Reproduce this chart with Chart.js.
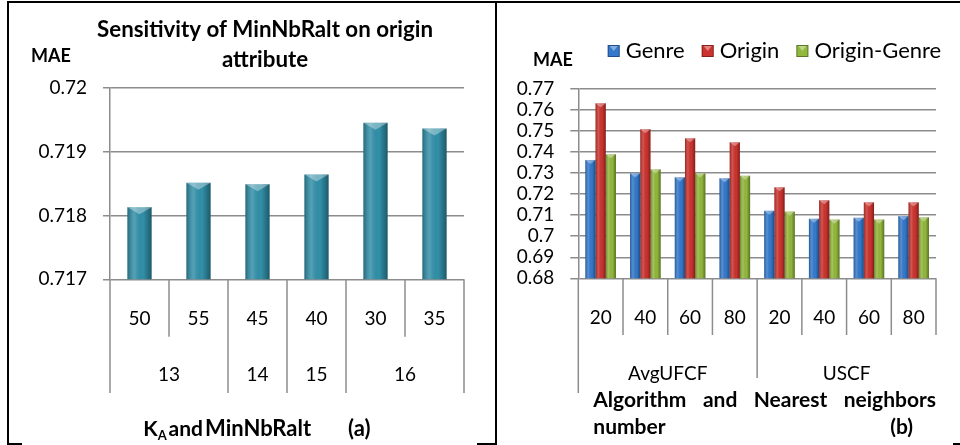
<!doctype html>
<html>
<head>
<title>MAE sensitivity</title>
<script src="https://cdn.jsdelivr.net/npm/chart.js@4.4.0/dist/chart.umd.min.js"></script>
<style>
body { margin: 0; background: #fff; }
.ln { position: absolute; background: #000; }
canvas { position: absolute; }
</style>
</head>
<body>
<div class="ln" style="left:7px;top:1px;width:953px;height:2px"></div>
<div class="ln" style="left:7px;top:1px;width:2px;height:444px"></div>
<div class="ln" style="left:495px;top:1px;width:2px;height:444px"></div>
<div class="ln" style="left:7px;top:443px;width:15px;height:2px"></div>
<div class="ln" style="left:477px;top:443px;width:20px;height:2px"></div>
<div class="ln" style="left:953px;top:443px;width:7px;height:2px"></div>
<canvas id="left-canvas" width="486" height="440" style="left:9px;top:3px"></canvas>
<canvas id="right-canvas" width="463" height="440" style="left:497px;top:3px"></canvas>
<script>
// (a) sensitivity of MinNbRalt, origin attribute
var minNbRalt = ['50', '55', '45', '40', '30', '35'];
var kaGroup = ['13', '13', '14', '15', '16', '16'];
var maeOrigin = [0.71813, 0.71851, 0.71849, 0.71864, 0.71945, 0.71936];

// (b) algorithm and nearest neighbors number
var neighbors = ['20', '40', '60', '80', '20', '40', '60', '80'];
var algorithm = ['AvgUFCF', 'AvgUFCF', 'AvgUFCF', 'AvgUFCF', 'USCF', 'USCF', 'USCF', 'USCF'];
var seriesNames = ['Genre', 'Origin', 'Origin-Genre'];
var maeGenre = [0.7363, 0.7299, 0.7280, 0.7276, 0.7121, 0.7083, 0.7088, 0.7096];
var maeOriginB = [0.7632, 0.7509, 0.7466, 0.7447, 0.7233, 0.7171, 0.7161, 0.7161];
var maeOriginGenre = [0.7390, 0.7318, 0.7299, 0.7288, 0.7117, 0.7079, 0.7079, 0.7090];

var GRID = '#8c8c8c';
var FONT = 'Lato';

// cylinder-ish shading over each bar, like the excel 3d style
var barShade = {
  id: 'barShade',
  afterDatasetsDraw: function(chart) {
    var ctx = chart.ctx, area = chart.chartArea;
    ctx.save();
    chart.data.datasets.forEach(function(ds, di) {
      chart.getDatasetMeta(di).data.forEach(function(bar) {
        var l = bar.x - bar.width / 2, r = bar.x + bar.width / 2;
        var bottom = Math.min(bar.base, area.bottom);
        var g = ctx.createLinearGradient(l, 0, r, 0);
        g.addColorStop(0, 'rgba(0,0,0,0.28)');
        g.addColorStop(0.3, 'rgba(255,255,255,0.16)');
        g.addColorStop(0.65, 'rgba(0,0,0,0)');
        g.addColorStop(1, 'rgba(0,0,0,0.38)');
        ctx.fillStyle = g;
        ctx.fillRect(l, bar.y, r - l, bottom - bar.y);
        ctx.fillStyle = 'rgba(255,255,255,0.35)';
        ctx.beginPath();
        ctx.moveTo(l, bar.y);
        ctx.lineTo(r, bar.y);
        ctx.lineTo(bar.x, bar.y + Math.min(bar.width * 0.4, 7));
        ctx.closePath();
        ctx.fill();
      });
    });
    ctx.restore();
  }
};

// second level of category labels + separator lines under the axis
function groupAxis(groups, o) {
  return {
    id: 'groupAxis',
    afterDraw: function(chart) {
      var ctx = chart.ctx, xs = chart.scales.x, top = chart.chartArea.bottom;
      var n = groups.length;
      var half = (xs.getPixelForValue(1) - xs.getPixelForValue(0)) / 2;
      ctx.save();
      ctx.strokeStyle = GRID;
      ctx.lineWidth = 1.5;
      for (var i = 0; i <= n; i++) {
        var px = i < n ? xs.getPixelForValue(i) - half : xs.getPixelForValue(n - 1) + half;
        var end;
        if (i === 0) end = o.startEnd;
        else if (i === n) end = o.lastEnd;
        else end = groups[i] === groups[i - 1] ? o.innerEnd : o.groupEnd;
        ctx.beginPath();
        ctx.moveTo(px, top);
        ctx.lineTo(px, end);
        ctx.stroke();
      }
      ctx.font = '19px ' + FONT;
      ctx.fillStyle = '#000';
      ctx.textAlign = 'center';
      ctx.textBaseline = 'middle';
      var s = 0;
      for (var j = 1; j <= n; j++) {
        if (j === n || groups[j] !== groups[s]) {
          var cx = (xs.getPixelForValue(s) + xs.getPixelForValue(j - 1)) / 2;
          ctx.fillText(groups[s], cx, o.labelY);
          s = j;
        }
      }
      ctx.restore();
    }
  };
}

var leftText = {
  id: 'leftText',
  afterDraw: function(chart) {
    var ctx = chart.ctx;
    ctx.save();
    ctx.fillStyle = '#000';
    ctx.textBaseline = 'alphabetic';
    ctx.font = 'bold 22.3px ' + FONT;
    ctx.textAlign = 'center';
    ctx.fillText('Sensitivity of MinNbRalt on origin', 256, 34);
    ctx.fillText('attribute', 256, 63.5);
    ctx.textAlign = 'left';
    ctx.font = 'bold 18px ' + FONT;
    ctx.fillText('MAE', 22, 58.5);
    // x title with subscript
    ctx.font = 'bold 21px ' + FONT;
    ctx.fillText('K', 134.3, 433);
    var kw = ctx.measureText('K').width;
    ctx.font = 'bold 13px ' + FONT;
    ctx.fillText('A', 134.3 + kw, 437);
    ctx.font = 'bold 21px ' + FONT;
    ctx.fillText('and', 159.5, 433);
    ctx.font = 'bold 22px ' + FONT;
    ctx.fillText('MinNbRalt', 196, 433);
    ctx.fillText('(a)', 339, 433);
    ctx.restore();
  }
};

var rightText = {
  id: 'rightText',
  afterDraw: function(chart) {
    var ctx = chart.ctx;
    ctx.save();
    ctx.fillStyle = '#000';
    ctx.textBaseline = 'alphabetic';
    ctx.textAlign = 'left';
    ctx.font = 'bold 18px ' + FONT;
    ctx.fillText('MAE', 36, 62.5);

    // legend
    ctx.font = '22px ' + FONT;
    var x = 110.7;
    chart.data.datasets.forEach(function(ds) {
      ctx.fillStyle = ds.backgroundColor;
      ctx.fillRect(x, 42, 12, 12);
      ctx.strokeStyle = 'rgba(0,0,0,0.35)';
      ctx.lineWidth = 1;
      ctx.strokeRect(x + 0.5, 42.5, 11, 11);
      ctx.fillStyle = 'rgba(255,255,255,0.4)';
      ctx.beginPath();
      ctx.moveTo(x + 2, 43);
      ctx.lineTo(x + 10, 43);
      ctx.lineTo(x + 6, 48);
      ctx.closePath();
      ctx.fill();
      ctx.fillStyle = '#000';
      ctx.fillText(ds.label, x + 18, 55);
      x += 18 + ctx.measureText(ds.label).width + 17;
    });

    // justified x title
    ctx.font = 'bold 21px ' + FONT;
    var words = ['Algorithm', 'and', 'Nearest', 'neighbors'];
    var x0 = 96.3, x1 = 439;
    var tw = 0;
    words.forEach(function(w) { tw += ctx.measureText(w).width; });
    var gap = (x1 - x0 - tw) / (words.length - 1);
    var wx = x0;
    words.forEach(function(w) {
      ctx.fillText(w, wx, 403.5);
      wx += ctx.measureText(w).width + gap;
    });
    ctx.fillText('number', x0, 430.5);
    ctx.textAlign = 'right';
    ctx.fillText('(b)', 416, 430.5);
    ctx.restore();
  }
};

function yScale(min, max, step, width, tickLen, decimals) {
  return {
    min: min,
    max: max,
    afterFit: function(s) { s.width = width; },
    border: { display: true, color: GRID, width: 1.5 },
    grid: { color: GRID, lineWidth: 1.5, tickLength: tickLen, drawTicks: true },
    ticks: {
      stepSize: step,
      autoSkip: false,
      padding: 16,
      color: '#000',
      font: { family: FONT, size: 19 },
      callback: function(v) { return String(+v.toFixed(decimals)); }
    }
  };
}

function xScale(height) {
  return {
    afterFit: function(s) { s.height = height; },
    border: { display: false },
    grid: { display: false },
    ticks: { padding: 20, color: '#000', font: { family: FONT, size: 19 }, maxRotation: 0, autoSkip: false }
  };
}

function draw() {
  Chart.defaults.font.family = FONT;

  new Chart(document.getElementById('left-canvas').getContext('2d'), {
    type: 'bar',
    data: {
      labels: minNbRalt,
      datasets: [{
        label: 'Origin',
        data: maeOrigin,
        backgroundColor: '#3190a9',
        barPercentage: 0.41,
        categoryPercentage: 1
      }]
    },
    options: {
      responsive: false,
      animation: false,
      layout: { padding: { left: 0, right: 31, top: 84.7, bottom: 0 } },
      plugins: { legend: { display: false }, tooltip: { enabled: false } },
      scales: {
        x: xScale(163.7),
        y: yScale(0.717, 0.72, 0.001, 101, 7, 3)
      }
    },
    plugins: [barShade, groupAxis(kaGroup, { startEnd: 390, lastEnd: 390, innerEnd: 333.7, groupEnd: 390, labelY: 372 }), leftText]
  });

  new Chart(document.getElementById('right-canvas').getContext('2d'), {
    type: 'bar',
    data: {
      labels: neighbors,
      datasets: [
        { label: seriesNames[0], data: maeGenre, backgroundColor: '#3479cc' },
        { label: seriesNames[1], data: maeOriginB, backgroundColor: '#cc332e' },
        { label: seriesNames[2], data: maeOriginGenre, backgroundColor: '#92b83c' }
      ]
    },
    options: {
      responsive: false,
      animation: false,
      datasets: { bar: { barPercentage: 1, categoryPercentage: 0.685 } },
      layout: { padding: { left: 0, right: 24, top: 86, bottom: 0 } },
      plugins: { legend: { display: false }, tooltip: { enabled: false } },
      scales: {
        x: xScale(164.7),
        y: yScale(0.68, 0.77, 0.01, 81.3, 8, 2)
      }
    },
    plugins: [barShade, groupAxis(algorithm, { startEnd: 390, lastEnd: 332, innerEnd: 332, groupEnd: 375, labelY: 371 }), rightText]
  });
}

Promise.all([
  document.fonts.load('19px Lato'),
  document.fonts.load('bold 21px Lato')
]).then(draw, draw);
</script>
</body>
</html>
